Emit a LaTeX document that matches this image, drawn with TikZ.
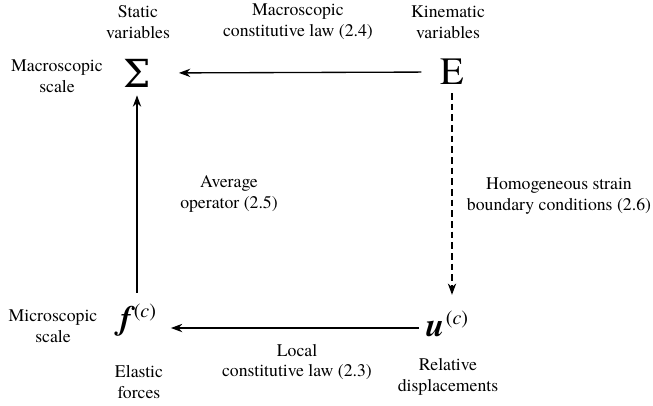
\documentclass[tikz,border=0pt]{standalone}
\usepackage{fontspec}
\setmainfont{texgyretermes}[Extension=.otf, UprightFont=*-regular, BoldFont=*-bold, ItalicFont=*-italic, BoldItalicFont=*-bolditalic]
\newfontfamily\sigmafont{DejaVu Serif}
\usetikzlibrary{arrows.meta}

\begin{document}
\begin{tikzpicture}[x=0.75pt,y=-0.75pt, every node/.style={font=\fontsize{13.3}{15.5}\selectfont}, lbl/.style={align=center,inner sep=0pt}, sym/.style={inner sep=0pt,font=\fontsize{29}{30}\selectfont}, vec/.style={inner sep=0pt,font=\fontsize{25}{26}\selectfont}, arr/.style={-{Stealth[length=3mm,width=2.2mm]},line width=1pt}]
\useasboundingbox (0,0) rectangle (653,405);
\node[sym] (Sigma) at (137,73) {\sigmafont Σ};
\node[sym] (E) at (452,72) {E};
\node[vec] (f) at (138,320) {\bfseries\itshape f\kern2pt\raisebox{9pt}{\fontsize{15}{15}\selectfont\mdseries\upshape(\textit{c})}};
\node[vec] (u) at (447,324) {\bfseries\itshape u\kern1pt\raisebox{9pt}{\fontsize{15}{15}\selectfont\mdseries\upshape(\textit{c})}};
\node[lbl] (static) at (138,22) {Static\\variables};
\node[lbl] (kin) at (448,22) {Kinematic\\variables};
\node[lbl] (macro) at (57,76) {Macroscopic\\scale};
\node[lbl] (micro) at (53,326) {Microscopic\\scale};
\node[lbl] (elastic) at (139,382) {Elastic\\forces};
\node[lbl] (reldisp) at (448,377) {Relative\\displacements};
\node[lbl] (maclaw) at (298,22) {Macroscopic\\constitutive law (2.4)};
\node[lbl] (loclaw) at (297,362) {Local\\constitutive law (2.3)};
\node[lbl] (avg) at (229,194) {Average\\operator (2.5)};
\node[lbl] (hom) at (559,196) {Homogeneous strain\\boundary conditions (2.6)};
\draw[arr,shorten <=14pt,shorten >=21pt] (E.west) -- (Sigma.east);
\draw[arr,shorten <=8pt,shorten >=6pt] (f.north -| Sigma) -- (Sigma.south);
\draw[arr,dashed,dash pattern=on 5pt off 3pt,shorten <=6pt,shorten >=12pt] (E.south) -- (E.south |- u.north);
\draw[arr,shorten <=5pt,shorten >=11pt] ([yshift=-3pt]u.west) -- ([yshift=-3pt]u.west -| f.east);
\end{tikzpicture}
\end{document}
